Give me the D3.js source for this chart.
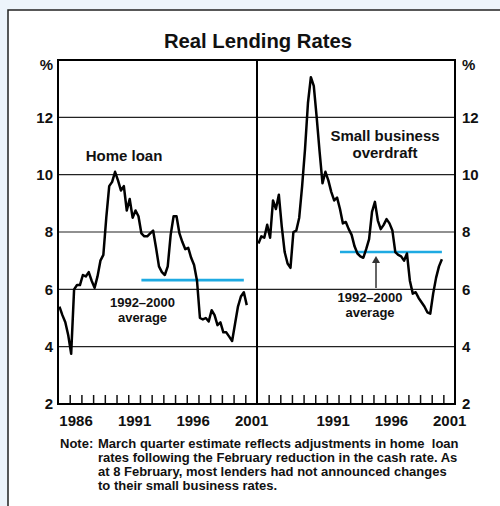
<!DOCTYPE html>
<html><head><meta charset="utf-8">
<script src="https://cdn.jsdelivr.net/npm/d3@7"></script>
<style>
body{margin:0;background:#edf4fb;}
svg{display:block;}
text{font-family:"Liberation Sans",Arial,Helvetica,sans-serif;font-weight:bold;fill:#111;}
</style>
</head><body><svg id="c" width="500" height="506"></svg>
<script>
// ---- data (quarterly, from 1985 Q1) ----
const startYear = 1985;
const homeLoan = [5.4,5.1,4.85,4.4,3.75,6.0,6.15,6.15,6.5,6.45,6.6,6.3,6.05,6.45,7.0,7.2,
  8.5,9.6,9.75,10.1,9.8,9.45,9.6,8.75,9.15,8.5,8.75,8.55,7.95,7.85,7.85,7.95,
  8.05,7.45,6.8,6.6,6.5,6.8,7.9,8.55,8.55,7.95,7.65,7.4,7.45,7.1,6.85,6.3,
  5.0,4.95,5.0,4.88,5.27,5.1,4.75,4.85,4.5,4.5,4.35,4.2,4.8,5.4,5.75,5.9,5.45];
const smallBusiness = [7.6,7.85,7.8,8.25,7.8,9.1,8.8,9.3,8.2,7.3,6.9,6.75,8.0,8.05,8.5,9.6,
  10.9,12.5,13.4,13.1,12.0,10.8,9.7,10.1,9.8,9.4,9.1,9.2,8.8,8.3,8.35,8.1,
  7.9,7.5,7.25,7.15,7.1,7.4,7.75,8.7,9.05,8.4,8.1,8.25,8.45,8.3,8.05,7.3,
  7.2,7.15,7.0,7.25,6.3,5.85,5.9,5.7,5.55,5.4,5.2,5.15,5.85,6.4,6.8,7.05];
const avgHomeLoan = 6.32;
const avgSmallBusiness = 7.3;
const avgFrom = 1992, avgTo = 2000;   // 1992 Q1 .. 2000 Q4
const yTicks = [2,4,6,8,10,12];
const yearTicks = d3.range(1986, 2002);
const leftYearLabels = [1986,1991,1996,2001];
const rightYearLabels = [1991,1996,2001];
const title = "Real Lending Rates";
const noteLines = ["March quarter estimate reflects adjustments in home  loan",
  "rates following the February reduction in the cash rate. As",
  "at 8 February, most lenders had not announced changes",
  "to their small business rates."];

// ---- layout ----
const svg = d3.select("#c");
const L = 58, M = 257, R = 455, T = 60, B = 404;
const y = d3.scaleLinear().domain([2,14]).range([B,T]);
const xL = d3.scaleLinear().domain([1985,2002]).range([L,M]);
const xR = d3.scaleLinear().domain([1985,2002]).range([M,R]);
const tq = i => startYear + i/4 + 0.125;

// outer frame
svg.append("rect").attr("x",8).attr("y",10).attr("width",600).attr("height",600)
  .attr("fill","#fff").attr("stroke","#222").attr("stroke-width",1.5);

svg.append("text").attr("x",258).attr("y",48).attr("text-anchor","middle")
  .style("font-size","20.3px").text(title);

// gridlines
svg.append("g").selectAll("line").data(yTicks.filter(d=>d>2)).join("line")
  .attr("x1",L).attr("x2",R).attr("y1",d=>y(d)).attr("y2",d=>y(d))
  .attr("stroke","#222").attr("stroke-width",1.1);

// y axes
const yl = svg.append("g").attr("transform",`translate(${L},0)`)
  .call(d3.axisLeft(y).tickValues(yTicks).tickSize(0).tickPadding(5).tickFormat(d3.format("d")));
const yr = svg.append("g").attr("transform",`translate(${R},0)`)
  .call(d3.axisRight(y).tickValues(yTicks).tickSize(0).tickPadding(7).tickFormat(d3.format("d")));
[yl,yr].forEach(g=>{g.select(".domain").remove();
  g.selectAll("text").style("font-size","15px").attr("font-family",null).attr("fill","#111");});
svg.append("text").attr("x",53).attr("y",70).attr("text-anchor","end").style("font-size","15px").text("%");
svg.append("text").attr("x",462).attr("y",70).style("font-size","15px").text("%");

// x ticks (inner, yearly)
[xL,xR].forEach(x=>{
  const g = svg.append("g").attr("transform",`translate(0,${B})`)
    .call(d3.axisBottom(x).tickValues(yearTicks).tickSizeInner(-9).tickSizeOuter(0).tickFormat(""));
  g.select(".domain").remove();
  g.selectAll("line").attr("stroke","#111").attr("stroke-width",1.5);
});
// x labels centered in years
[[xL,leftYearLabels],[xR,rightYearLabels]].forEach(([x,labs])=>{
  const g = svg.append("g").attr("transform",`translate(0,${B})`)
    .call(d3.axisBottom(x).tickValues(labs.map(d=>d+0.5)).tickSize(0).tickPadding(11).tickFormat(d=>Math.floor(d)));
  g.select(".domain").remove();
  g.selectAll("text").style("font-size","15px").attr("font-family",null).attr("fill","#111");
});

// average lines
svg.append("line").attr("x1",xL(avgFrom+0.125)).attr("x2",xL(avgTo+0.875))
  .attr("y1",y(avgHomeLoan)).attr("y2",y(avgHomeLoan)).attr("stroke","#1eaae2").attr("stroke-width",2.6);
svg.append("line").attr("x1",xR(avgFrom+0.125)).attr("x2",xR(avgTo+0.875))
  .attr("y1",y(avgSmallBusiness)).attr("y2",y(avgSmallBusiness)).attr("stroke","#1eaae2").attr("stroke-width",2.6);

// series lines
const lineL = d3.line().x((d,i)=>xL(tq(i))).y(d=>y(d));
const lineR = d3.line().x((d,i)=>xR(tq(i))).y(d=>y(d));
svg.append("path").attr("d",lineL(homeLoan)).attr("fill","none").attr("stroke","#000").attr("stroke-width",2.5).attr("stroke-linejoin","round");
svg.append("path").attr("d",lineR(smallBusiness)).attr("fill","none").attr("stroke","#000").attr("stroke-width",2.5).attr("stroke-linejoin","round");

// frame of plot
svg.append("rect").attr("x",L).attr("y",T).attr("width",R-L).attr("height",B-T)
  .attr("fill","none").attr("stroke","#000").attr("stroke-width",2);
svg.append("line").attr("x1",M).attr("x2",M).attr("y1",T).attr("y2",B).attr("stroke","#000").attr("stroke-width",2);

// annotations
svg.append("text").attr("x",124).attr("y",161).attr("text-anchor","middle").style("font-size","15px").text("Home loan");
const sb = svg.append("text").attr("x",385).attr("text-anchor","middle").style("font-size","15px");
sb.append("tspan").attr("x",385).attr("y",141).text("Small business");
sb.append("tspan").attr("x",385).attr("y",158).text("overdraft");
const a1 = svg.append("text").attr("text-anchor","middle").style("font-size","13px");
a1.append("tspan").attr("x",142.5).attr("y",307).text("1992–2000");
a1.append("tspan").attr("x",142.5).attr("y",322).text("average");
const a2 = svg.append("text").attr("text-anchor","middle").style("font-size","13px");
a2.append("tspan").attr("x",370).attr("y",302).text("1992–2000");
a2.append("tspan").attr("x",370).attr("y",317).text("average");
// arrow
svg.append("line").attr("x1",376).attr("x2",376).attr("y1",288).attr("y2",262).attr("stroke","#333").attr("stroke-width",1.5);
svg.append("path").attr("d","M372,263 L376,256 L380,263 Z").attr("fill","#333");

// note
svg.append("text").attr("x",60).attr("y",448).style("font-size","13px").text("Note:");
noteLines.forEach((s,i)=>{
  svg.append("text").attr("x",98).attr("y",448+i*14).style("font-size","13px").style("white-space","pre").text(s);
});
</script></body></html>
